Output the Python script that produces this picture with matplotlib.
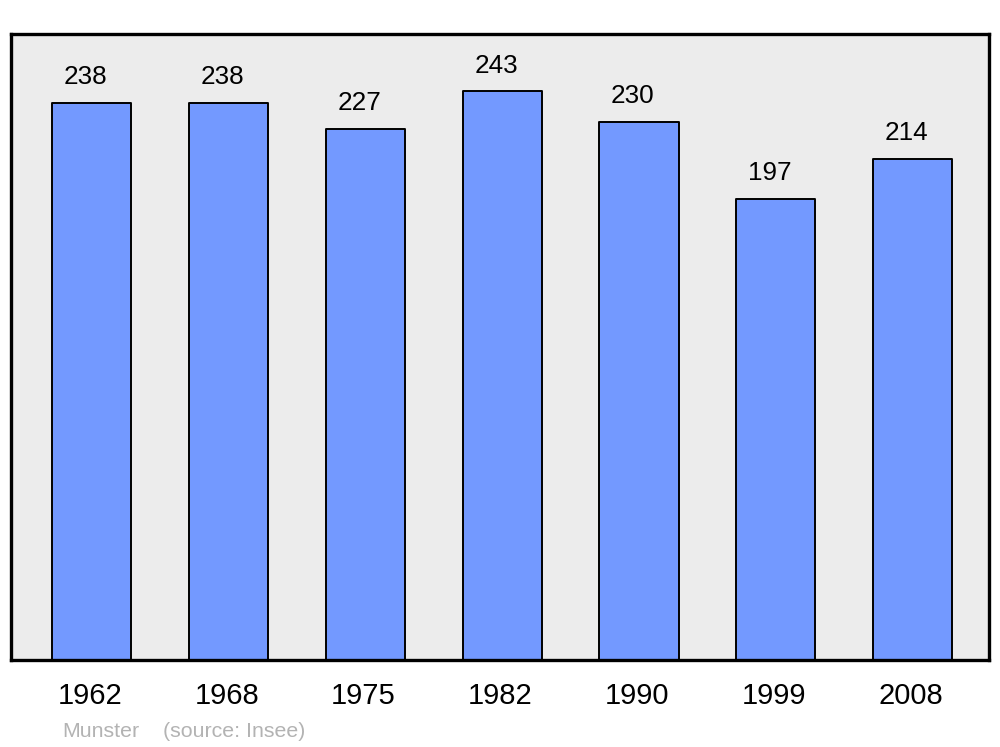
import matplotlib.pyplot as plt
import matplotlib.transforms as mtransforms
import numpy as np

years = ['1962', '1968', '1975', '1982', '1990', '1999', '2008']
population = [238, 238, 227, 243, 230, 197, 214]

plt.rcParams['font.family'] = ['Liberation Sans', 'DejaVu Sans']

fig = plt.figure(figsize=(10, 7.47), dpi=100)
ax = fig.add_axes([0.011, 1 - 660 / 747, 0.978, 626 / 747])
ax.set_facecolor('#ececec')

x = np.arange(len(years))
bars = ax.bar(x, population, width=0.578, color='#7399ff', edgecolor='black',
              linewidth=1.4, zorder=2)
for b in bars:
    b.set_joinstyle('round')

for xi, v in zip(x, population):
    ax.annotate(str(v), (xi, v), xytext=(-4.5, 13.5), textcoords='offset points',
                ha='center', va='baseline', fontsize=18.8)

ax.set_xlim(-0.592, 6.559)
ax.set_ylim(0, 267.5)
ax.set_xticks(x)
ax.set_xticklabels(years, fontsize=21)
ax.tick_params(axis='x', length=0, pad=16)
# nudge tick labels a little to the left like the original
shift = mtransforms.ScaledTranslation(-2 / 100, 0, fig.dpi_scale_trans)
for lbl in ax.get_xticklabels():
    lbl.set_transform(lbl.get_transform() + shift)
ax.set_yticks([])
for s in ax.spines.values():
    s.set_linewidth(2.4)
    s.set_joinstyle('round')

fig.text(0.062, 1 - 737 / 747, 'Munster', color='#b3b3b3', fontsize=15.4, va='baseline')
fig.text(0.163, 1 - 737 / 747, '(source: Insee)', color='#b3b3b3', fontsize=15.4, va='baseline')

fig.savefig('out.png', dpi=100)
